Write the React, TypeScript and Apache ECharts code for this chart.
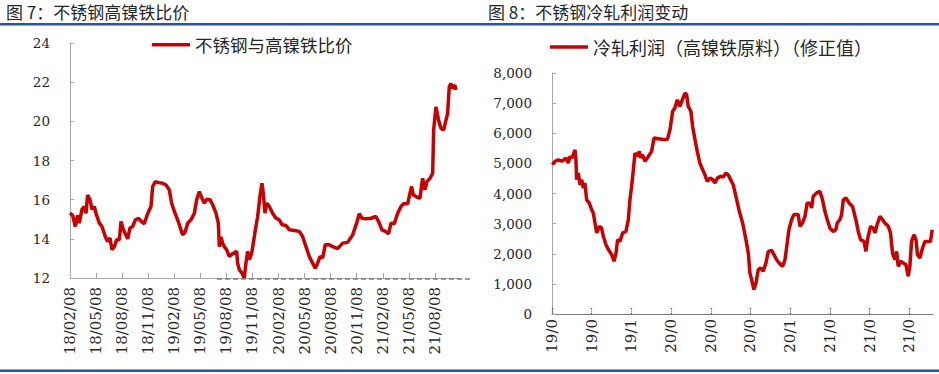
import React, { useEffect, useRef } from "react";
import * as echarts from "echarts";

// ---- Figure 7: stainless steel / high-nickel iron price ratio ----
// x = months since 2018-02-08
const LEFT_TICK_LABELS = [
  "18/02/08", "18/05/08", "18/08/08", "18/11/08", "19/02/08", "19/05/08", "19/08/08", "19/11/08",
  "20/02/08", "20/05/08", "20/08/08", "20/11/08", "21/02/08", "21/05/08", "21/08/08",
];
const LEFT_MONTHS = [
  0, 0.31, 0.61, 0.88, 1.07, 1.38, 1.65, 1.84, 2.03, 2.3, 2.53, 2.8, 2.99, 3.38, 3.68, 4.07, 4.33, 4.6,
  4.83, 5.1, 5.37, 5.68, 5.87, 6.14, 6.44, 6.64, 6.9, 7.21, 7.52, 7.9, 8.17, 8.55, 8.82, 9.05, 9.32,
  9.51, 9.82, 10.2, 10.66, 11.05, 11.43, 11.7, 12.01, 12.39, 12.7, 12.97, 13.27, 13.54, 13.92, 14.31,
  14.58, 14.88, 15.19, 15.46, 15.73, 16.11, 16.42, 16.8, 17.07, 17.19, 17.38, 17.57, 17.76, 18.03,
  18.34, 18.72, 19.18, 19.29, 19.49, 19.79, 20.06, 20.25, 20.45, 20.64, 20.91, 21.1, 21.33, 21.6,
  21.86, 22.09, 22.25, 22.44, 22.63, 22.94, 23.32, 23.71, 24.09, 24.4, 24.86, 25.24, 25.82, 26.39,
  26.77, 27.16, 27.54, 27.92, 28.23, 28.5, 28.77, 29.08, 29.38, 29.84, 30.23, 30.8, 31.38, 31.95,
  32.53, 32.99, 33.29, 33.6, 34.06, 34.64, 35.21, 35.6, 35.9, 36.29, 36.67, 36.94, 37.32, 37.71,
  38.09, 38.36, 38.86, 39.13, 39.32, 39.51, 39.82, 40.28, 40.58, 40.85, 41.08, 41.43, 41.74, 41.85,
  42.12, 42.42, 42.69, 43.0, 43.27, 43.46, 43.65, 43.84, 44.04, 44.3, 44.42,
];
const LEFT_RATIO = [
  15.31, 15.2, 14.63, 15.2, 14.8, 15.5, 15.65, 15.3, 16.24, 16.0, 15.5, 15.65, 15.3, 14.8, 14.63, 14.1,
  13.87, 14.04, 13.44, 13.6, 13.95, 13.95, 14.89, 14.46, 14.2, 14.0, 14.55, 14.63, 14.97, 15.05, 14.9,
  14.77, 15.14, 15.4, 15.65, 16.67, 16.92, 16.87, 16.84, 16.75, 16.5, 15.82, 15.4, 14.97, 14.55, 14.2,
  14.37, 14.8, 14.97, 15.3, 16.0, 16.41, 16.07, 15.82, 16.02, 16.0, 15.74, 15.31, 14.8, 13.6, 14.1,
  13.78, 13.6, 13.44, 13.1, 13.24, 13.36, 12.76, 12.42, 12.25, 12.0, 12.76, 13.36, 12.93, 13.27, 13.78,
  14.46, 15.14, 16.16, 16.84, 16.33, 15.31, 15.82, 15.65, 15.31, 15.05, 14.97, 14.72, 14.68, 14.46,
  14.43, 14.38, 14.12, 13.6, 13.1, 12.76, 12.5, 12.76, 13.1, 13.02, 13.7, 13.7, 13.6, 13.5, 13.78,
  13.82, 14.2, 14.8, 15.28, 15.05, 15.02, 15.05, 15.14, 14.8, 14.46, 14.38, 14.26, 14.8, 14.77, 15.3,
  15.65, 15.79, 15.79, 16.33, 16.67, 16.24, 16.16, 16.07, 17.09, 16.5, 16.92, 17.09, 17.35, 19.55,
  20.74, 20.06, 19.64, 19.55, 20.06, 20.4, 21.76, 21.93, 21.68, 21.85, 21.6,
];

// ---- Figure 8: cold-rolled profit (high-nickel iron feedstock, adjusted) ----
// x = months since 2019-04
const RIGHT_TICK_LABELS = ["19/0", "19/0", "19/1", "20/0", "20/0", "20/0", "20/1", "21/0", "21/0", "21/0"];
const RIGHT_MONTHS = [
  0.03, 0.23, 0.48, 0.73, 0.91, 1.06, 1.23, 1.36, 1.49, 1.61, 1.74, 1.81, 1.86, 1.99, 2.12, 2.24, 2.37,
  2.49, 2.62, 2.82, 3.0, 3.12, 3.25, 3.38, 3.58, 3.75, 3.88, 4.08, 4.26, 4.51, 4.69, 4.84, 4.96, 5.14,
  5.34, 5.59, 5.77, 5.89, 6.02, 6.15, 6.27, 6.45, 6.6, 6.7, 6.83, 7.03, 7.28, 7.53, 7.71, 8.04, 8.41,
  8.72, 8.92, 9.12, 9.29, 9.47, 9.67, 9.85, 10.05, 10.18, 10.3, 10.5, 10.63, 10.81, 10.98, 11.18, 11.39,
  11.56, 11.74, 11.94, 12.14, 12.32, 12.49, 12.75, 12.95, 13.15, 13.32, 13.5, 13.7, 13.9, 14.16, 14.41,
  14.66, 14.84, 14.96, 15.09, 15.26, 15.42, 15.59, 15.77, 15.97, 16.17, 16.35, 16.6, 16.78, 16.98,
  17.18, 17.43, 17.61, 17.73, 17.91, 18.11, 18.29, 18.61, 18.74, 18.94, 19.12, 19.29, 19.5, 19.62,
  19.75, 20.0, 20.25, 20.45, 20.63, 20.81, 21.01, 21.26, 21.46, 21.56, 21.76, 21.89, 22.02, 22.22,
  22.47, 22.72, 22.97, 23.15, 23.32, 23.58, 23.73, 23.9, 24.08, 24.28, 24.41, 24.58, 24.79, 24.99,
  25.16, 25.42, 25.59, 25.74, 25.92, 26.05, 26.17, 26.35, 26.55, 26.75, 26.93, 27.05, 27.18, 27.36,
  27.51, 27.63, 27.81, 28.01, 28.19, 28.44, 28.61, 28.74,
];
const RIGHT_PROFIT = [
  4960, 5070, 5120, 5070, 5120, 5180, 5010, 5230, 5180, 5290, 5450, 5120, 4460, 4680, 4290, 4460, 4180,
  4350, 3790, 3680, 3460, 3350, 3020, 2690, 2910, 2850, 2580, 2300, 2140, 1970, 1750, 2020, 2470, 2410,
  2690, 2740, 3130, 3790, 4240, 4790, 5340, 5230, 5400, 5180, 5290, 5070, 5230, 5400, 5840, 5820, 5790,
  5790, 6120, 6730, 6840, 7110, 6890, 7110, 7330, 7280, 6890, 6730, 6230, 5790, 5400, 5010, 4790, 4620,
  4400, 4510, 4460, 4350, 4510, 4570, 4550, 4680, 4620, 4460, 4290, 3910, 3410, 3020, 2470, 2020, 1360,
  1140, 810, 1030, 1470, 1530, 1420, 1690, 2080, 2110, 1970, 1800, 1690, 1580, 1800, 2190, 2800, 3130,
  3300, 3300, 2910, 3020, 3240, 3680, 3680, 3520, 3910, 4020, 4070, 3790, 3410, 3130, 2850, 2740, 2800,
  3020, 3130, 3300, 3790, 3850, 3680, 3570, 3130, 2740, 2470, 2410, 2080, 2580, 2910, 2850, 2690, 2970,
  3240, 3130, 3020, 2910, 2690, 2020, 1800, 2080, 1580, 1750, 1690, 1640, 1250, 1580, 2410, 2630, 2470,
  1970, 1860, 2190, 2410, 2410, 2410, 2800,
];

const LEFT_NAME = "不锈钢与高镍铁比价";
const RIGHT_NAME = "冷轧利润（高镍铁原料）（修正值）";

const SERIF = "'DejaVu Serif', serif";
const CJK = "'Noto Sans CJK SC', 'Noto Sans', sans-serif";
const RED = "#c80000";
const AXIS = "#a6a6a6";
const TEXT = "#262626";
const BLUE = "#2f5597";

export default function App() {
  const ref = useRef<HTMLDivElement>(null);

  useEffect(() => {
    if (!ref.current) return;
    const chart = echarts.init(ref.current, undefined, { renderer: "svg" });

    const leftData = LEFT_MONTHS.map((m, i) => [m, LEFT_RATIO[i]]);
    const rightData = RIGHT_MONTHS.map((m, i) => [m, RIGHT_PROFIT[i]]);
    const leftTicks = LEFT_TICK_LABELS.map((_, i) => i * 3);
    const rightTicks = RIGHT_TICK_LABELS.map((_, i) => i * 3);

    chart.setOption({
      animation: false,
      backgroundColor: "#ffffff",
      graphic: [
        {
          type: "text",
          left: 6,
          top: 3,
          style: { text: "图 7：不锈钢高镍铁比价", font: `17px ${CJK}`, fill: TEXT },
        },
        {
          type: "text",
          left: 488,
          top: 3,
          style: { text: "图 8：不锈钢冷轧利润变动", font: `17px ${CJK}`, fill: TEXT },
        },
        { type: "rect", shape: { x: 0, y: 23, width: 939, height: 2.5 }, style: { fill: BLUE } },
        { type: "rect", shape: { x: 0, y: 369.5, width: 939, height: 2.5 }, style: { fill: BLUE } },
        {
          type: "line",
          z: 10,
          shape: { x1: 217, y1: 279, x2: 473, y2: 279 },
          style: { stroke: "#7f7f7f", lineWidth: 1.6, lineDash: [5, 3] },
        },
      ],
      legend: [
        {
          left: 147,
          top: 31,
          icon: "rect",
          itemWidth: 38,
          itemHeight: 3.5,
          data: [LEFT_NAME],
          textStyle: { fontFamily: CJK, fontSize: 17.5, color: TEXT },
        },
        {
          left: 545,
          top: 33,
          icon: "rect",
          itemWidth: 38,
          itemHeight: 3.5,
          data: [RIGHT_NAME],
          textStyle: { fontFamily: CJK, fontSize: 18, color: TEXT },
        },
      ],
      grid: [
        { left: 70, top: 43, width: 391, height: 235 },
        { left: 552, top: 73, width: 381, height: 241 },
      ],
      xAxis: [
        {
          type: "value",
          gridIndex: 0,
          min: 0,
          max: 45,
          interval: 3,
          axisLine: { lineStyle: { color: AXIS, width: 1 } },
          axisTick: { inside: true, length: 5, customValues: leftTicks, lineStyle: { color: AXIS } },
          axisLabel: {
            rotate: 90,
            margin: 9,
            fontFamily: SERIF,
            fontSize: 15,
            color: TEXT,
            customValues: leftTicks,
            formatter: (v: number) => LEFT_TICK_LABELS[Math.round(v / 3)] ?? "",
          },
          splitLine: { show: false },
        },
        {
          type: "value",
          gridIndex: 1,
          min: 0,
          max: 28.8,
          interval: 3,
          axisLine: { lineStyle: { color: "#7f7f7f", width: 1 } },
          axisTick: {
            inside: true,
            length: 6,
            customValues: rightTicks,
            lineStyle: { color: "#404040", type: "dotted", width: 1.2 },
          },
          axisLabel: {
            rotate: 90,
            margin: 5,
            fontFamily: SERIF,
            fontSize: 15,
            color: TEXT,
            customValues: rightTicks,
            formatter: (v: number) => RIGHT_TICK_LABELS[Math.round(v / 3)] ?? "",
          },
          splitLine: { show: false },
        },
      ],
      yAxis: [
        {
          type: "value",
          gridIndex: 0,
          min: 12,
          max: 24,
          interval: 2,
          axisLine: { show: true, lineStyle: { color: AXIS, width: 1 } },
          axisTick: { show: true, inside: true, length: 4, lineStyle: { color: AXIS } },
          axisLabel: { margin: 20, fontFamily: SERIF, fontSize: 13.5, color: TEXT },
          splitLine: { show: false },
        },
        {
          type: "value",
          gridIndex: 1,
          min: 0,
          max: 8000,
          interval: 1000,
          axisLine: { show: true, lineStyle: { color: AXIS, width: 1 } },
          axisTick: { show: true, inside: true, length: 4, lineStyle: { color: AXIS } },
          axisLabel: {
            margin: 20,
            fontFamily: SERIF,
            fontSize: 13.5,
            color: TEXT,
            formatter: (v: number) => v.toLocaleString("en-US"),
          },
          splitLine: { show: false },
        },
      ],
      series: [
        {
          name: LEFT_NAME,
          type: "line",
          xAxisIndex: 0,
          yAxisIndex: 0,
          data: leftData,
          symbol: "none",
          showSymbol: false,
          lineStyle: { color: RED, width: 3.5 },
          itemStyle: { color: RED },
        },
        {
          name: RIGHT_NAME,
          type: "line",
          xAxisIndex: 1,
          yAxisIndex: 1,
          data: rightData,
          symbol: "none",
          showSymbol: false,
          lineStyle: { color: RED, width: 3.5 },
          itemStyle: { color: RED },
        },
      ],
    });

    return () => chart.dispose();
  }, []);

  return (
    <div
      ref={ref}
      style={{ position: "fixed", left: 0, top: 0, width: 939, height: 374, background: "#fff" }}
    />
  );
}
